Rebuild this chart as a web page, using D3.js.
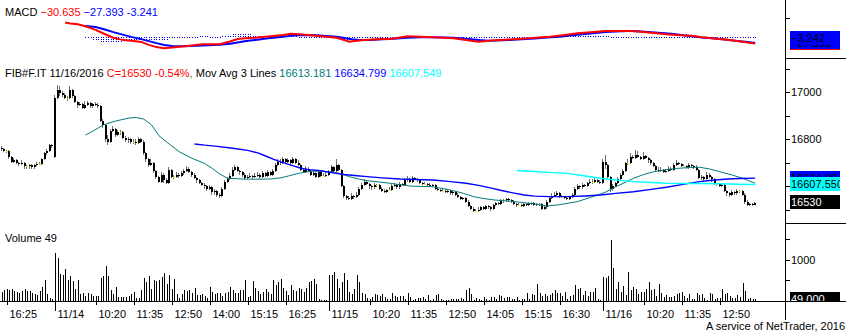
<!DOCTYPE html>
<html><head><meta charset="utf-8">
<script src="https://cdn.jsdelivr.net/npm/d3@7"></script>
<style>
html,body{margin:0;padding:0;background:#fff;}
svg{display:block;}
text{font-family:"Liberation Sans",Arial,sans-serif;font-size:11px;}
</style></head><body>
<svg id="chart" width="846" height="335"></svg>
<script>
// FIB#F.IT 5-minute bars, 11/11 16:15 .. 11/16 14:00
const opens = [
16765,16760,16750,16750,16725,16705,16710,16700,16695,16700,
16685,16685,16690,16680,16690,16695,16695,16715,16740,16750,
16775,16725,16975,17010,16995,16990,16975,16975,17010,16985,
16960,16945,16950,16935,16945,16955,16940,16950,16945,16940,
16880,16860,16800,16790,16835,16845,16820,16830,16830,16805,
16795,16800,16790,16790,16785,16800,16790,16740,16715,16690,
16700,16665,16640,16620,16650,16625,16615,16670,16640,16640,
16650,16645,16655,16665,16675,16660,16650,16635,16625,16615,
16605,16600,16590,16595,16575,16580,16565,16560,16590,16620,
16630,16645,16670,16680,16665,16660,16650,16635,16640,16645,
16640,16645,16650,16640,16655,16645,16660,16650,16665,16690,
16705,16700,16715,16705,16710,16700,16715,16700,16690,16670,
16660,16675,16665,16650,16655,16640,16660,16645,16645,16650,
16660,16680,16665,16690,16670,16600,16560,16550,16545,16560,
16555,16565,16590,16605,16620,16610,16600,16595,16605,16605,
16590,16580,16575,16585,16585,16600,16605,16595,16610,16605,
16625,16630,16620,16635,16630,16625,16615,16610,16610,16605,
16600,16605,16590,16585,16580,16580,16575,16580,16570,16575,
16565,16555,16545,16550,16535,16515,16505,16495,16495,16500,
16510,16505,16515,16510,16505,16520,16530,16525,16540,16540,
16545,16540,16535,16525,16520,16520,16515,16525,16520,16525,
16530,16520,16525,16525,16505,16510,16535,16550,16560,16565,
16570,16555,16555,16550,16545,16555,16565,16590,16600,16595,
16605,16600,16615,16620,16620,16625,16620,16615,16705,16690,
16640,16590,16600,16615,16630,16650,16665,16700,16700,16725,
16720,16735,16725,16715,16730,16720,16710,16700,16685,16670,
16665,16670,16660,16665,16675,16670,16690,16700,16695,16685,
16685,16680,16690,16685,16680,16670,16635,16640,16630,16650,
16640,16630,16610,16610,16600,16605,16580,16570,16565,16575,
16570,16580,16580,16565,16535,16520,16525,16520];
const highs = [
16770,16765,16755,16755,16730,16720,16715,16705,16710,16705,
16690,16695,16695,16695,16705,16705,16720,16745,16760,16780,
16780,16990,17030,17025,17005,16995,16985,17025,17015,16990,
16965,16960,16955,16965,16965,16960,16955,16960,16955,16945,
16885,16865,16820,16845,16855,16850,16840,16840,16835,16815,
16810,16805,16800,16800,16810,16805,16795,16745,16720,16715,
16705,16670,16645,16660,16655,16635,16680,16675,16650,16660,
16655,16665,16675,16685,16680,16665,16655,16640,16630,16620,
16615,16605,16605,16600,16590,16585,16570,16595,16625,16640,
16655,16680,16690,16685,16670,16665,16655,16650,16655,16650,
16655,16660,16655,16665,16660,16670,16665,16675,16700,16715,
16715,16725,16720,16720,16715,16725,16720,16710,16695,16675,
16685,16680,16670,16665,16660,16670,16665,16655,16660,16670,
16690,16685,16715,16695,16675,16605,16565,16560,16570,16565,
16575,16595,16615,16630,16625,16615,16605,16615,16610,16610,
16595,16590,16590,16595,16610,16615,16610,16620,16615,16635,
16645,16635,16645,16640,16635,16630,16620,16620,16615,16615,
16610,16610,16595,16590,16590,16590,16585,16585,16580,16580,
16570,16560,16555,16555,16540,16520,16510,16505,16510,16515,
16515,16520,16520,16515,16525,16535,16535,16545,16545,16550,
16550,16545,16540,16530,16530,16525,16530,16530,16535,16535,
16535,16530,16530,16530,16520,16540,16560,16570,16575,16580,
16575,16565,16560,16555,16560,16570,16595,16610,16605,16615,
16610,16620,16630,16630,16635,16630,16625,16715,16735,16695,
16645,16610,16620,16640,16655,16675,16705,16715,16740,16735,
16755,16750,16730,16745,16735,16725,16715,16705,16690,16680,
16680,16675,16675,16685,16680,16700,16710,16705,16700,16695,
16690,16700,16695,16690,16690,16675,16650,16645,16660,16655,
16645,16635,16615,16615,16610,16610,16585,16575,16585,16580,
16590,16585,16585,16570,16540,16530,16530,16535];
const lows = [
16750,16745,16740,16715,16700,16700,16695,16685,16690,16675,
16675,16675,16675,16675,16685,16690,16690,16710,16735,16745,
16765,16720,16970,16985,16980,16970,16965,16970,16975,16955,
16935,16940,16930,16930,16940,16935,16935,16940,16935,16875,
16850,16790,16775,16785,16830,16810,16815,16820,16800,16790,
16785,16780,16780,16775,16780,16785,16735,16705,16680,16685,
16655,16630,16615,16615,16615,16610,16610,16635,16630,16635,
16635,16640,16650,16660,16655,16640,16630,16615,16610,16600,
16590,16580,16585,16565,16565,16555,16550,16555,16585,16615,
16625,16640,16665,16660,16650,16640,16625,16630,16635,16630,
16635,16640,16630,16635,16640,16640,16645,16645,16660,16685,
16690,16695,16700,16700,16690,16695,16695,16685,16665,16655,
16655,16660,16645,16645,16635,16635,16640,16640,16640,16645,
16655,16660,16660,16665,16595,16550,16540,16540,16540,16545,
16550,16560,16585,16600,16605,16590,16585,16590,16595,16585,
16575,16570,16570,16580,16580,16595,16590,16590,16600,16600,
16620,16615,16615,16625,16620,16610,16605,16605,16600,16595,
16595,16585,16580,16575,16575,16570,16570,16565,16565,16560,
16550,16540,16540,16530,16510,16500,16490,16490,16490,16495,
16500,16500,16505,16495,16500,16515,16520,16520,16530,16535,
16535,16530,16520,16510,16515,16510,16510,16515,16515,16520,
16515,16515,16515,16500,16500,16505,16530,16545,16555,16560,
16550,16550,16545,16540,16540,16550,16560,16585,16590,16590,
16595,16595,16610,16610,16615,16615,16610,16610,16675,16630,
16575,16580,16595,16610,16625,16645,16660,16690,16695,16715,
16715,16720,16710,16710,16715,16700,16690,16680,16665,16660,
16660,16655,16655,16660,16665,16665,16685,16690,16680,16680,
16675,16675,16680,16675,16665,16630,16625,16620,16625,16635,
16620,16605,16600,16595,16595,16575,16560,16555,16560,16565,
16565,16570,16560,16525,16515,16515,16515,16520];
const closes = [
16760,16750,16750,16725,16705,16710,16700,16695,16700,16685,
16685,16690,16680,16690,16695,16695,16715,16740,16750,16775,
16770,16975,17010,16995,16990,16975,16975,17010,16985,16960,
16945,16950,16935,16945,16955,16940,16950,16945,16940,16880,
16860,16800,16790,16835,16845,16820,16830,16830,16805,16795,
16800,16790,16790,16785,16800,16790,16740,16715,16690,16700,
16665,16640,16620,16650,16625,16615,16670,16640,16640,16650,
16645,16655,16665,16675,16660,16650,16635,16625,16615,16605,
16600,16590,16595,16575,16580,16565,16560,16590,16620,16630,
16645,16670,16680,16665,16660,16650,16635,16640,16645,16640,
16645,16650,16640,16655,16645,16660,16650,16665,16690,16705,
16700,16715,16705,16710,16700,16715,16700,16690,16670,16660,
16675,16665,16650,16655,16640,16660,16645,16645,16650,16660,
16680,16665,16690,16670,16600,16560,16550,16545,16560,16555,
16565,16590,16605,16620,16610,16600,16595,16605,16605,16590,
16580,16575,16585,16585,16600,16605,16595,16610,16605,16625,
16630,16620,16635,16630,16625,16615,16610,16610,16605,16600,
16605,16590,16585,16580,16580,16575,16580,16570,16575,16565,
16555,16545,16550,16535,16515,16505,16495,16495,16500,16510,
16505,16515,16510,16505,16520,16530,16525,16540,16540,16545,
16540,16535,16525,16520,16520,16515,16525,16520,16525,16530,
16520,16525,16525,16505,16510,16535,16550,16560,16565,16570,
16555,16555,16550,16545,16555,16565,16590,16600,16595,16605,
16600,16615,16620,16620,16625,16620,16615,16705,16690,16640,
16590,16600,16615,16630,16650,16665,16700,16700,16725,16720,
16735,16725,16715,16730,16720,16710,16700,16685,16670,16665,
16670,16660,16665,16675,16670,16690,16700,16695,16685,16685,
16680,16690,16685,16680,16670,16635,16640,16630,16650,16640,
16630,16610,16610,16600,16605,16580,16570,16565,16575,16570,
16580,16580,16565,16535,16520,16525,16520,16530];
const volumes = [
230,270,286,270,302,246,230,206,238,302,
238,238,206,167,143,238,349,524,159,71,
48,1175,1048,667,643,786,524,619,484,286,
500,175,190,127,190,159,119,127,119,564,
619,857,619,270,167,341,87,103,103,103,
127,167,222,71,64,262,572,468,619,302,
500,476,500,580,675,405,635,302,548,167,
71,167,262,246,262,206,318,135,143,167,
127,64,349,230,175,183,206,127,198,230,
341,262,206,206,270,262,516,103,127,484,
318,238,167,222,286,230,167,524,381,468,
548,326,254,151,389,278,238,326,286,214,
318,468,484,540,413,40,24,24,30,643,
643,715,540,326,461,675,500,222,159,302,
635,468,206,167,64,48,87,167,143,127,
167,87,48,48,190,111,87,127,127,40,
206,87,32,40,71,64,87,40,143,30,
48,143,167,48,24,32,24,40,48,48,
48,71,48,262,326,167,24,71,48,24,
87,48,24,87,87,40,143,127,64,87,
87,48,48,87,24,40,48,190,48,167,
143,405,190,127,167,111,151,206,262,190,
206,127,230,48,127,143,381,286,326,143,
246,127,230,222,326,48,24,580,564,619,
1477,802,286,461,222,365,143,699,262,349,
286,167,230,222,302,461,262,286,127,405,
183,87,143,103,103,127,167,206,222,127,
64,167,48,48,206,143,167,79,32,183,
167,48,64,64,302,159,190,127,64,79,
143,87,429,246,48,64,48,49];

// Session tick labels: [bar index, label]
const timeTicks = [
[2,"16:25"],[21,"11/14"],[37,"10:20"],[52,"11:35"],[67,"12:50"],[82,"14:00"],[97,"15:15"],[112,"16:25"],
[129,"11/15"],[145,"10:20"],[160,"11:35"],[175,"12:50"],[190,"14:05"],[205,"15:15"],[220,"16:30"],
[237,"11/16"],[253,"10:20"],[268,"11:35"],[283,"12:50"]];

// Moving averages, [bar index, value]
const maShort = [
[33,16818],[36,16835],[40,16861],[45,16878],[50,16890],[53,16893],[56,16886],[59,16862],[62,16815],
[66,16780],[70,16747],[75,16719],[80,16697],[83,16676],[86,16652],[89,16634],[95,16631],[100,16630],
[106,16631],[110,16636],[113,16644],[117,16655],[122,16664],[127,16664],[131,16660],[134,16652],
[137,16641],[141,16630],[144,16624],[149,16618],[153,16613],[161,16601],[170,16598],[177,16584],
[182,16570],[186,16556],[190,16548],[194,16542],[202,16535],[210,16525],[215,16516],[220,16522],
[227,16535],[233,16556],[238,16575],[242,16598],[246,16618],[249,16634],[253,16650],[257,16662],
[262,16671],[266,16676],[271,16680],[275,16681],[279,16674],[283,16662],[288,16648],[292,16634],
[297,16613.181]];
const maMid = [
[76,16780],[80,16775],[85,16770],[91,16762],[97,16753],[101,16742],[104,16729],[107,16716],
[110,16704],[114,16690],[118,16677],[121,16671],[125,16667],[130,16658],[135,16650],[140,16645],
[144,16641],[150,16636],[157,16631],[163,16629],[170,16627],[177,16620],[183,16613],[188,16604],
[193,16592],[197,16582],[202,16571],[206,16563],[210,16558],[216,16556],[223,16556],[230,16559],
[236,16563],[242,16570],[249,16577],[256,16587],[262,16596],[268,16607],[275,16620],[280,16626],
[286,16631],[291,16633],[297,16634.799]];
const maLong = [
[203,16667],[210,16663],[217,16658],[223,16655],[230,16644],[236,16634],[243,16626],[249,16620],
[256,16616],[262,16613],[270,16612],[276,16612],[283,16611],[290,16609],[297,16607.549]];

// MACD(12,26,9): [bar index, value]
const macdLine = [
[25,75],[27,70],[30,66],[33,56],[37,38],[41,15],[44,-1],[48,-13],[52,-17],[55,-22],[58,-37],[61,-48],
[64,-54],[66,-51],[69,-47],[74,-41],[79,-34],[86,-34],[88,-26],[90,-20],[93,-8],[97,-3],[100,-1],
[105,5],[111,12.5],[114,19],[117,16],[121,12.5],[126,6],[132,-1],[135,-13],[137,-21],[140,-16],
[143,-12],[150,-8],[153,-7.5],[157,0],[160,6],[165,3.5],[172,0],[178,-4],[183,-12.5],[188,-21],
[193,-15.5],[200,-9.5],[208,-4],[212,0],[216,4],[222,13],[227,21],[232,26.5],[238,32.5],[248,32.5],
[253,27],[259,20.5],[262,16.5],[266,12],[272,9],[276,1.5],[280,-4],[287,-12.5],[292,-21],[297,-30.635]];
const signalLine = [
[33,58],[37,52],[41,39],[44,27],[48,13],[51,3],[55,-8],[58,-18],[61,-28],[64,-37],[67,-43],[72,-44],
[79,-40],[86,-36],[90,-31],[94,-23],[97,-16],[100,-12],[105,-4],[108,0],[111,4],[114,8.5],[117,11.5],
[121,13],[124,11.5],[128,8],[132,4],[135,-2],[138,-9],[141,-12],[145,-12],[150,-9],[153,-8],[157,-4],
[160,-1],[165,1.5],[170,1.5],[175,0],[178,-1.5],[183,-6],[188,-13],[192,-16.5],[195,-15.5],[200,-12],
[205,-9],[210,-5],[215,-0.5],[220,4],[226,12],[230,17.5],[234,22],[238,27],[242,30],[247,32.5],
[249,32],[252,30],[256,26],[260,22],[264,19],[268,13],[272,6],[276,0],[280,-4],[285,-10],[290,-17],
[294,-23],[297,-27.393]];
const histStart = 33;
const macdHist = [
-2,-4,-6,-8,-14,-17,-20,-22,-24,-25,
-26,-26,-25,-23,-20,-17,-15,-13,-12,-11,
-11,-11,-11,-12,-12,-13,-13,-13,-12,-12,
-11,-10,-8,-6,-4,-3,-2,-1,0,0,
1,2,3,4,4,5,6,5,5,4,
4,3,3,2,5,8,10,11,14,16,
17,17,15,14,13,13,12,11,10,10,
10,10,9,9,9,9,9,8,8,9,
10,10,8,6,4,3,2,0,0,-1,
-2,-3,-4,-4,-4,-5,-5,-5,-5,-5,
-7,-9,-11,-13,-15,-10,-6,-4,-2,0,
0,1,1,1,1,1,1,1,0,0,
0,1,2,3,4,5,6,7,5,4,
3,3,2,1,1,0,0,0,0,-1,
-1,-1,-2,-2,-2,-3,-4,-4,-5,-6,
-7,-7,-7,-8,-8,-8,-6,-4,-2,0,
1,2,2,3,3,3,3,3,3,3,
3,3,3,3,3,3,3,3,3,3,
3,3,4,4,5,5,6,6,7,6,
7,7,8,7,8,8,7,7,6,7,
7,7,7,6,6,6,5,4,3,3,
2,2,1,1,0,0,-1,-2,-2,-2,
-2,-2,-3,-3,-3,-3,-3,-3,-3,-4,
-5,-5,-5,-4,-3,-2,-1,0,1,3,
3,3,2,1,1,0,0,0,0,0,
0,0,0,0,0,0,0,-1,-1,-1,
-2,-2,-2,-3,-3.242];

const priceTicks = [16500,16600,16700,16800,16900,17000,17100];
const priceLabels = [16800,17000];
const volumeTicks = [500,1000,1500];
const volumeLabels = [1000];
const macdTicks = [100];
const changePct = "-0.54%";
const histHeader = "-3.241";

const axisX = 785;
const svg = d3.select("#chart");

const x = d3.scaleLinear().domain([-0.68, 308.75]).range([0, axisX]);
const yMacd = d3.scaleLinear().domain([-102.5, 187.5]).range([58, 0]);
const yPrice = d3.scaleLinear().domain([16443.8, 17146]).range([223, 58]);
const yVol = d3.scaleLinear().domain([0, 1902]).range([301, 223]);

const defs = svg.append("defs");
let clipCount = 0;
function addClip(id, x0, y0, w, h) {
  defs.append("clipPath").attr("id", id).append("rect")
    .attr("x", x0).attr("y", y0).attr("width", w).attr("height", h);
}
addClip("cMacd", 0, 0, axisX, 58);
addClip("cPrice", 0, 58, axisX, 165);
addClip("cVol", 0, 223, axisX, 78);
addClip("cBoxTop", axisX + 1, 0, 840 - axisX - 1, 301);
addClip("cBoxVol", axisX + 1, 223, 840 - axisX - 1, 78);

const px = i => Math.round(x(i));
const bars = d3.range(closes.length);

// ---- price panel: candles ----
const gP = svg.append("g").attr("clip-path", "url(#cPrice)");
gP.selectAll("line.wick").data(bars).join("line").attr("class", "wick")
  .attr("x1", i => px(i) - 0.5).attr("x2", i => px(i) - 0.5)
  .attr("y1", i => yPrice(highs[i])).attr("y2", i => yPrice(lows[i]))
  .attr("stroke", "#707070").attr("stroke-width", 1).attr("shape-rendering", "crispEdges");
gP.selectAll("rect.body").data(bars.filter(i => opens[i] !== closes[i])).join("rect").attr("class", "body")
  .attr("x", i => px(i) - 1).attr("width", 2)
  .attr("y", i => yPrice(Math.max(opens[i], closes[i])))
  .attr("height", i => Math.max(1, Math.abs(yPrice(opens[i]) - yPrice(closes[i]))))
  .attr("fill", "#000").attr("shape-rendering", "crispEdges");
gP.selectAll("rect.doji").data(bars.filter(i => opens[i] === closes[i])).join("rect").attr("class", "doji")
  .attr("x", i => px(i) - 1).attr("width", 2)
  .attr("y", i => Math.round(yPrice(closes[i]))).attr("height", 1)
  .attr("fill", "#f0f000").attr("shape-rendering", "crispEdges");

// moving averages
const maLineGen = d3.line().x(d => x(d[0])).y(d => yPrice(d[1]));
[[maShort, "#007b7b", 1], [maMid, "#0000ff", 1.4], [maLong, "#00ffff", 1.4]].forEach(([data, col, w]) => {
  gP.append("path").datum(data).attr("d", maLineGen)
    .attr("fill", "none").attr("stroke", col).attr("stroke-width", w);
});

// ---- MACD panel ----
const gM = svg.append("g").attr("clip-path", "url(#cMacd)");
const y0m = Math.floor(yMacd(0));
gM.selectAll("line.hist").data(macdHist).join("line").attr("class", "hist")
  .attr("x1", (d, k) => px(histStart + k) + 0.5).attr("x2", (d, k) => px(histStart + k) + 0.5)
  .attr("y1", y0m)
  .attr("y2", d => {
    const dy = yMacd(d) - yMacd(0);
    return y0m + (Math.abs(dy) < 1 ? 1 : dy + (dy > 0 ? 1 : 0));
  })
  .attr("stroke", "#0000ff").attr("stroke-width", 1).attr("stroke-dasharray", "1,1")
  .attr("shape-rendering", "crispEdges");
const macdGen = d3.line().x(d => x(d[0])).y(d => yMacd(d[1]));
gM.append("path").datum(signalLine).attr("d", macdGen)
  .attr("fill", "none").attr("stroke", "#0000ff").attr("stroke-width", 2);
gM.append("path").datum(macdLine).attr("d", macdGen)
  .attr("fill", "none").attr("stroke", "#ff0000").attr("stroke-width", 2);

// ---- volume panel ----
const gV = svg.append("g").attr("clip-path", "url(#cVol)");
gV.selectAll("line.vol").data(bars).join("line").attr("class", "vol")
  .attr("x1", i => px(i) + 0.5).attr("x2", i => px(i) + 0.5)
  .attr("y1", yVol(0)).attr("y2", i => Math.min(yVol(0) - 1, yVol(volumes[i])))
  .attr("stroke", "#000").attr("stroke-width", 1).attr("shape-rendering", "crispEdges");

// ---- frame lines ----
const frame = svg.append("g").attr("stroke", "#000").attr("stroke-width", 1).attr("shape-rendering", "crispEdges");
frame.append("line").attr("x1", axisX + 0.5).attr("x2", axisX + 0.5).attr("y1", 0).attr("y2", 320);
frame.append("line").attr("x1", axisX).attr("x2", 846).attr("y1", 58.5).attr("y2", 58.5);
frame.append("line").attr("x1", axisX).attr("x2", 846).attr("y1", 223.5).attr("y2", 223.5);
frame.append("line").attr("x1", 0).attr("x2", 846).attr("y1", 301.5).attr("y2", 301.5);

// right-hand axis ticks and labels
function rightTicks(values, scale, labels) {
  values.forEach(v => {
    const yy = Math.round(scale(v)) + 0.5;
    frame.append("line").attr("x1", axisX).attr("x2", axisX + 5).attr("y1", yy).attr("y2", yy);
  });
  labels.forEach(v => {
    svg.append("text").attr("x", axisX + 6).attr("y", scale(v) + 4).attr("fill", "#000").text(v);
  });
}
rightTicks(priceTicks, yPrice, priceLabels);
rightTicks(volumeTicks, yVol, volumeLabels);
rightTicks(macdTicks, yMacd, []);

// time axis
timeTicks.forEach(([i, lab]) => {
  const xx = px(i) + 0.5;
  const isDay = lab.includes("/");
  frame.append("line").attr("x1", xx).attr("x2", xx).attr("y1", 302).attr("y2", isDay ? 311 : 305);
  svg.append("text").attr("x", xx + 2).attr("y", 317.5).attr("fill", "#000").text(lab);
});

// ---- value boxes on the right axis ----
// Boxes are stacked in drawing order; a label is only drawn over the part of its box left uncovered.
function drawBoxes(g, list) {
  const boxes = list.map(b => {
    const yy = b.scale(b.v);
    return Object.assign({}, b, { yy, top: yy - 7.4, bot: yy + 6 });
  });
  boxes.forEach((b, k) => {
    g.append("rect").attr("x", axisX + 5).attr("y", b.top).attr("width", 50).attr("height", b.bot - b.top)
      .attr("fill", b.fill).attr("shape-rendering", "crispEdges");
    let segs = [[b.top, b.bot]];
    boxes.slice(k + 1).forEach(o => {
      segs = segs.flatMap(([a, c]) => {
        const out = [];
        if (o.top > a) out.push([a, Math.min(c, o.top)]);
        if (o.bot < c) out.push([Math.max(a, o.bot), c]);
        return out.filter(s => s[1] - s[0] > 0);
      });
    });
    segs.sort((p, q) => (q[1] - q[0]) - (p[1] - p[0]));
    const vis = segs[0];
    if (!vis || vis[1] - vis[0] < 3) return;
    const t = g.append("text").attr("x", axisX + 6).attr("y", b.yy + 3.6).attr("fill", b.textFill).text(b.label);
    if (vis[0] > b.top + 0.01 || vis[1] < b.bot - 0.01) {
      const id = "cTxt" + (clipCount++);
      addClip(id, axisX, vis[0], 60, vis[1] - vis[0]);
      t.attr("clip-path", "url(#" + id + ")");
    }
  });
}
const fmt3 = d3.format(".3f");
const last = closes.length - 1;
const macdLast = macdLine[macdLine.length - 1][1];
const sigLast = signalLine[signalLine.length - 1][1];
const histLast = macdHist[macdHist.length - 1];
const sLast = maShort[maShort.length - 1][1];
const mLast = maMid[maMid.length - 1][1];
const lLast = maLong[maLong.length - 1][1];

const gBox = svg.append("g").attr("clip-path", "url(#cBoxTop)");
drawBoxes(gBox, [
  { v: macdLast, scale: yMacd, fill: "#ff0000", textFill: "#000", label: fmt3(macdLast) },
  { v: sigLast, scale: yMacd, fill: "#0000ff", textFill: "#000", label: fmt3(sigLast) },
  { v: histLast, scale: yMacd, fill: "#0000ff", textFill: "#000", label: fmt3(histLast) }
]);
drawBoxes(gBox, [
  { v: sLast, scale: yPrice, fill: "#007b7b", textFill: "#fff", label: d3.format(".2f")(sLast) },
  { v: mLast, scale: yPrice, fill: "#0000ff", textFill: "#000", label: d3.format(".2f")(mLast) },
  { v: lLast, scale: yPrice, fill: "#00ffff", textFill: "#000", label: fmt3(Math.round(lLast * 100) / 100) },
  { v: closes[last], scale: yPrice, fill: "#000", textFill: "#fff", label: String(closes[last]) }
]);
const gBoxV = svg.append("g").attr("clip-path", "url(#cBoxVol)");
drawBoxes(gBoxV, [
  { v: volumes[last], scale: yVol, fill: "#000", textFill: "#fff", label: fmt3(volumes[last]) }
]);

// ---- panel headers ----
const tMacd = svg.append("text").attr("x", 5).attr("y", 16);
tMacd.append("tspan").attr("fill", "#000").text("MACD ");
tMacd.append("tspan").attr("fill", "#ff0000").text(fmt3(macdLast));
tMacd.append("tspan").attr("fill", "#0000ff").text(" " + fmt3(sigLast) + " " + histHeader);

const tMain = svg.append("text").attr("x", 5).attr("y", 77);
tMain.append("tspan").attr("fill", "#000").text("FIB#F.IT 11/16/2016 ");
tMain.append("tspan").attr("fill", "#ff0000").text("C=" + closes[last] + " " + changePct);
tMain.append("tspan").attr("fill", "#00a000").text(",");
tMain.append("tspan").attr("fill", "#000").text(" Mov Avg 3 Lines ");
tMain.append("tspan").attr("fill", "#007b7b").text(fmt3(sLast) + " ");
tMain.append("tspan").attr("fill", "#0000ff").text(fmt3(mLast) + " ");
tMain.append("tspan").attr("fill", "#00ffff").text(fmt3(lLast));

svg.append("text").attr("x", 5).attr("y", 242).attr("fill", "#000").text("Volume " + volumes[last]);

svg.append("text").attr("x", 845).attr("y", 329.5).attr("text-anchor", "end").attr("fill", "#000")
  .text("A service of NetTrader, 2016");
</script>
</body></html>
